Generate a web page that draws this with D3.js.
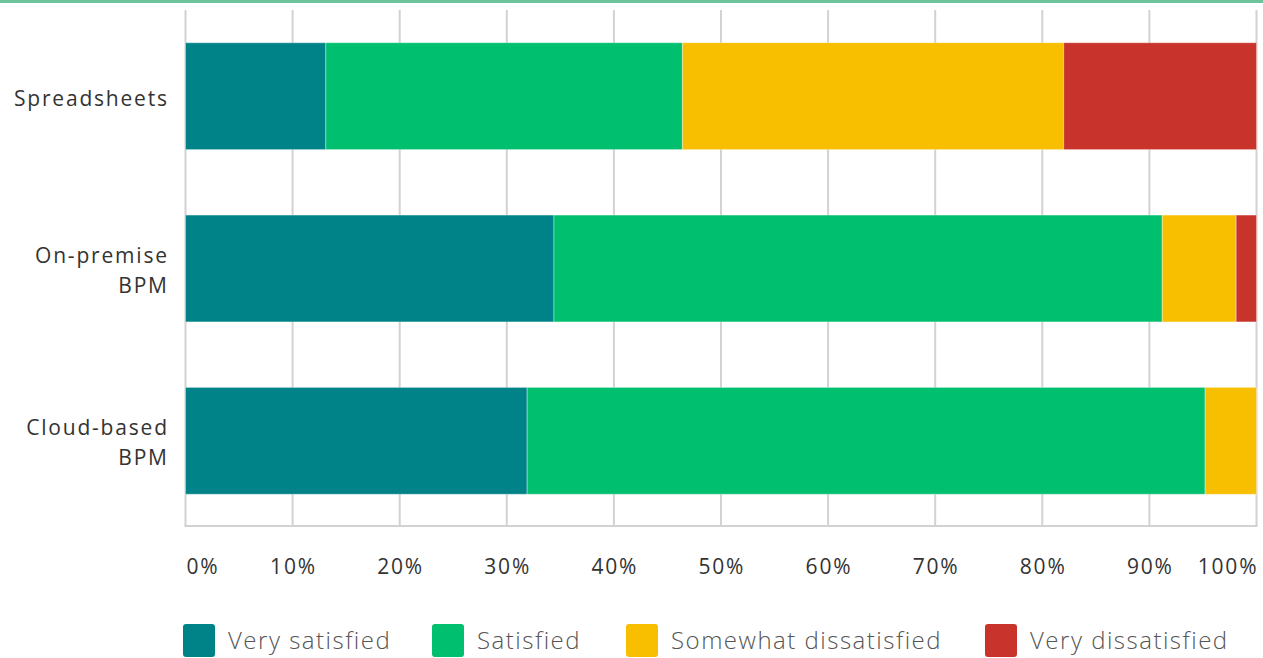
<!DOCTYPE html>
<html>
<head>
<meta charset="utf-8">
<script src="https://cdn.jsdelivr.net/npm/d3@7"></script>
<style>
  html, body { margin: 0; padding: 0; background: #fff; }
  svg { display: block; }
</style>
</head>
<body>
<svg id="chart" width="1263" height="658"></svg>
<script>
// Satisfaction with process tools, share of respondents (%)
const categories = [["Spreadsheets"], ["On-premise", "BPM"], ["Cloud-based", "BPM"]];
const series = ["Very satisfied", "Satisfied", "Somewhat dissatisfied", "Very dissatisfied"];
const verySatisfied = [13.1, 34.4, 31.9];
const satisfied = [33.3, 56.8, 63.3];
const somewhatDissatisfied = [35.6, 6.9, 4.8];
const veryDissatisfied = [18.0, 1.9, 0.0];
const tickValues = [0, 10, 20, 30, 40, 50, 60, 70, 80, 90, 100];
const tickLabels = ["0%", "10%", "20%", "30%", "40%", "50%", "60%", "70%", "80%", "90%", "100%"];
const colors = ["#008388", "#00bf6f", "#f8be00", "#c8332b"];

const svg = d3.select("#chart");
const font = "'Open Sans', 'DejaVu Sans', sans-serif";
const spacing = 1.8;

// header accent line
svg.append("rect").attr("x", 0).attr("y", 0).attr("width", 1263).attr("height", 3).attr("fill", "#6cc39c");

const x = d3.scaleLinear().domain([0, 100]).range([185.5, 1256.5]);
const keys = categories.map((c, i) => i);
const y = d3.scaleBand().domain(keys).range([10, 527]).paddingInner(0.38).paddingOuter(0.19);

// vertical gridlines
svg.append("g").selectAll("line").data(tickValues).join("line")
  .attr("x1", d => x(d)).attr("x2", d => x(d))
  .attr("y1", 10).attr("y2", 526)
  .attr("stroke", "#d2d2d2").attr("stroke-width", 2);

// baseline
svg.append("line").attr("x1", x(0) - 1).attr("x2", x(100) + 1)
  .attr("y1", 526).attr("y2", 526).attr("stroke", "#d2d2d2").attr("stroke-width", 2);

// stacked bars
const rows = keys.map(i => {
  const o = { key: i };
  o[0] = verySatisfied[i]; o[1] = satisfied[i]; o[2] = somewhatDissatisfied[i]; o[3] = veryDissatisfied[i];
  return o;
});
const stacked = d3.stack().keys([0, 1, 2, 3])(rows);

svg.append("g").selectAll("g").data(stacked).join("g")
  .attr("fill", (d, i) => colors[i])
  .selectAll("rect").data(d => d.filter(s => s[1] - s[0] > 0)).join("rect")
  .attr("x", d => x(d[0]))
  .attr("width", d => x(d[1]) - x(d[0]))
  .attr("y", d => y(d.data.key))
  .attr("height", y.bandwidth())
  .attr("stroke", "rgba(255,255,255,0.35)").attr("stroke-width", 1);

// category labels (end-anchored; letter-spacing trails the last glyph)
const labels = svg.append("g");
categories.forEach((lines, i) => {
  const cy = y(i) + y.bandwidth() / 2 + 2;
  const lh = 30;
  lines.forEach((t, j) => {
    labels.append("text")
      .attr("x", 167 + spacing)
      .attr("y", cy + (j - (lines.length - 1) / 2) * lh)
      .attr("dy", "0.35em")
      .attr("text-anchor", "end")
      .attr("font-family", font).attr("font-size", 21)
      .attr("letter-spacing", spacing)
      .attr("fill", "#333")
      .text(t);
  });
});

// x axis tick labels
const last = tickValues.length - 1;
svg.append("g").selectAll("text").data(tickValues).join("text")
  .attr("x", (d, i) => i === 0 ? x(d) + 1 : (i === last ? x(d) + spacing : x(d) + spacing / 2))
  .attr("y", 567)
  .attr("dy", "0.35em")
  .attr("text-anchor", (d, i) => i === 0 ? "start" : (i === last ? "end" : "middle"))
  .attr("font-family", font).attr("font-size", 21)
  .attr("letter-spacing", spacing)
  .attr("fill", "#333")
  .text((d, i) => tickLabels[i]);

// legend
const legendX = [183, 432, 626, 985];
const lg = svg.append("g").selectAll("g").data(series).join("g")
  .attr("transform", (d, i) => `translate(${legendX[i]},624)`);
lg.append("rect").attr("width", 32).attr("height", 33).attr("rx", 3)
  .attr("fill", (d, i) => colors[i]);
lg.append("text").attr("x", 45).attr("y", 17).attr("dy", "0.35em")
  .attr("font-family", font).attr("font-size", 24).attr("font-weight", 300)
  .attr("letter-spacing", 1.5)
  .attr("fill", "#555")
  .text(d => d);
</script>
</body>
</html>
